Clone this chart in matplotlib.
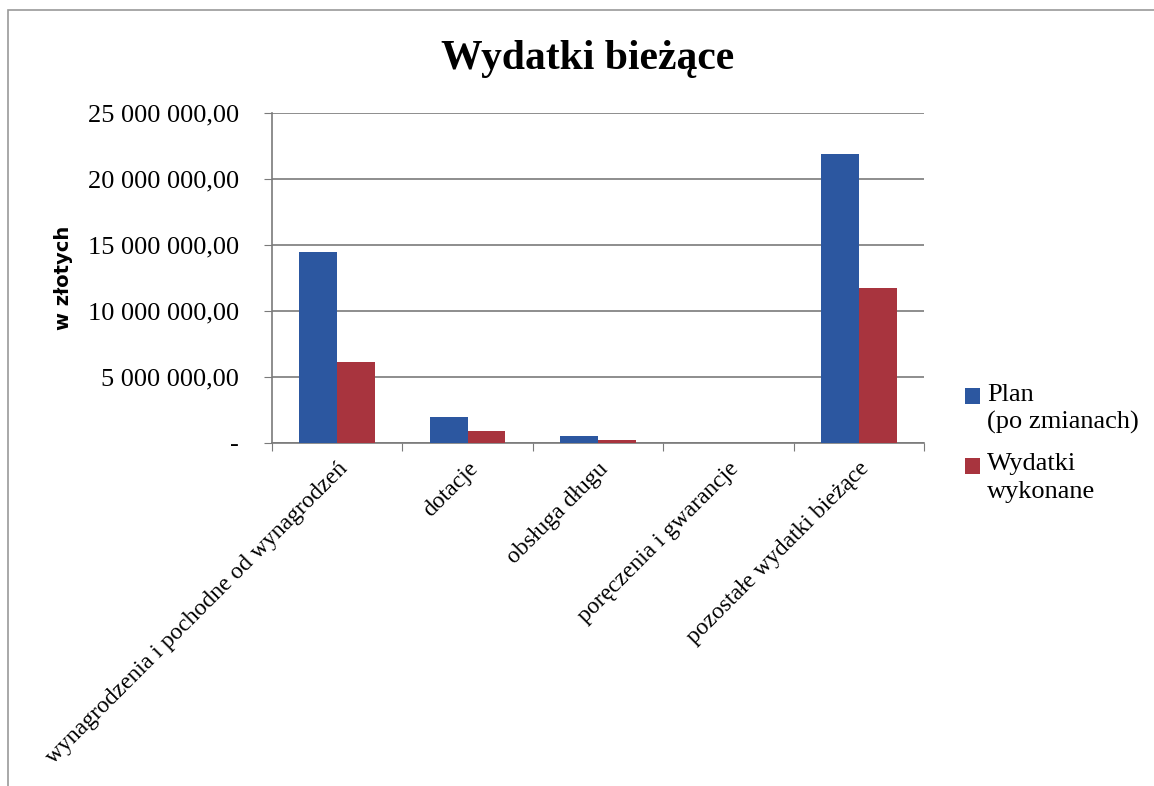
import numpy as np
import matplotlib.pyplot as plt
from matplotlib.patches import Rectangle
from matplotlib.ticker import FuncFormatter
from matplotlib.legend_handler import HandlerPatch

categories = ["wynagrodzenia i pochodne od wynagrodzeń", "dotacje", "obsługa długu",
              "poręczenia i gwarancje", "pozostałe wydatki bieżące"]
plan = [14_500_000, 1_950_000, 550_000, 0, 21_870_000]
wykonane = [6_110_000, 910_000, 230_000, 0, 11_720_000]
series_names = ["Plan\n(po zmianach)", "Wydatki\nwykonane"]

serif = "Liberation Serif"


def pl_format(v, pos):
    if v == 0:
        return "-"
    s = f"{v:,.2f}".replace(",", " ").replace(".", ",")
    return s


def top_square(legend, orig_handle, xdescent, ydescent, width, height, fontsize):
    # square next to the first line of a two-line label
    return Rectangle((-xdescent, -ydescent + 0.45 * fontsize), width, height)


def main():
    fig = plt.figure(figsize=(11.54, 7.86), dpi=100)
    ax = fig.add_axes([0.2357, 0.4364, 0.565, 0.42])

    x = np.arange(len(categories))
    w = 0.29
    b1 = ax.bar(x - w / 2, plan, w, color="#2C57A0", zorder=3)
    b2 = ax.bar(x + w / 2, wykonane, w, color="#A8343E", zorder=3)

    ax.set_xlim(-0.5, len(categories) - 0.5)
    ax.set_ylim(0, 25_000_000)
    ax.set_yticks(np.arange(0, 25_000_001, 5_000_000))
    ax.yaxis.set_major_formatter(FuncFormatter(pl_format))
    ax.grid(axis="y", color="#7a7a7a", linewidth=1.2, zorder=0)

    ax.set_xticks(np.arange(-0.5, len(categories), 1.0))
    ax.set_xticklabels([])
    ax.set_xticks(x, minor=True)
    ax.set_xticklabels(categories, minor=True, rotation=45, ha="right",
                       rotation_mode="anchor", fontsize=17, fontfamily=serif)
    ax.tick_params(axis="x", which="minor", length=0, pad=11)
    ax.tick_params(axis="x", which="major", length=6, color="#7a7a7a", direction="out")
    ax.tick_params(axis="y", length=6, color="#7a7a7a", direction="out", pad=18)
    for lab in ax.get_yticklabels():
        lab.set_fontfamily(serif)
        lab.set_fontsize(19)

    for s in ["top", "right"]:
        ax.spines[s].set_visible(False)
    for s in ["left", "bottom"]:
        ax.spines[s].set_color("#7a7a7a")
        ax.spines[s].set_linewidth(1.2)

    ax.set_ylabel("w złotych", fontsize=14, fontweight="bold", fontfamily="DejaVu Sans")
    ax.yaxis.set_label_coords(-0.305, 0.5)

    fig.text(0.509, 0.912, "Wydatki bieżące", ha="center", va="baseline",
             fontsize=30, fontweight="bold", fontfamily=serif)

    handles = [b1.patches[0], b2.patches[0]]
    hmap = {h: HandlerPatch(patch_func=top_square) for h in handles}
    leg = fig.legend(handles, series_names, handler_map=hmap,
                     loc="upper left", bbox_to_anchor=(0.836, 0.512), frameon=False,
                     prop={"family": serif, "size": 19}, handlelength=0.57,
                     handleheight=0.55, handletextpad=0.27, labelspacing=0.72,
                     borderpad=0, borderaxespad=0)
    for t in leg.get_texts():
        t.set_linespacing(1.33)

    fig.add_artist(Rectangle((0.007, -0.1), 1.0, 1.087, transform=fig.transFigure,
                             fill=False, edgecolor="#9a9a9a", linewidth=1.2))

    fig.savefig("out.png", dpi=100)


if __name__ == "__main__":
    main()
